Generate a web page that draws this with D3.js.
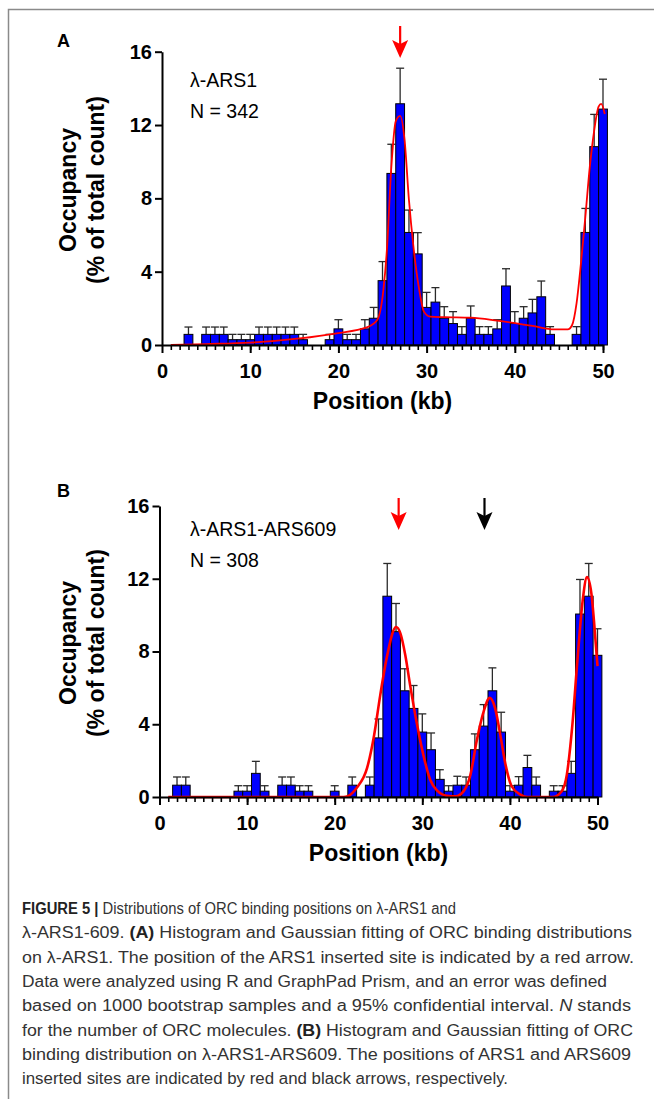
<!DOCTYPE html>
<html lang="en">
<head>
<meta charset="utf-8">
<title>ORC binding distributions</title>
<script src="https://cdnjs.cloudflare.com/ajax/libs/d3/7.8.5/d3.min.js"></script>
<style>
  html, body { margin: 0; padding: 0; background: #fff; }
  svg { display: block; font-family: Arial, "Liberation Sans", sans-serif; }
  .axis path, .axis line { stroke: #000; stroke-width: 2; }
  .axis text { font-size: 20px; font-weight: bold; fill: #000; font-family: Arial, "Liberation Sans", sans-serif; }
  .minor path { display: none; }
  .minor line { stroke-width: 1.6; }
  .title { font-size: 23px; font-weight: bold; }
  .caption { font-size: 16px; fill: #333; }
</style>
</head>
<body>
<div id="chart"></div>
<script>
// positions of the histogram bins (kb)
const positionsKb = [1,2,3,4,5,6,7,8,9,10,11,12,13,14,15,16,17,18,19,20,21,22,23,24,25,
                     26,27,28,29,30,31,32,33,34,35,36,37,38,39,40,41,42,43,44,45,46,47,48,49,50];
const yTicks = [0, 4, 8, 12, 16];
const xMajorTicks = [0, 10, 20, 30, 40, 50];

// panel A : lambda-ARS1, N = 342
const occupancyA = [0,0,0.58,0,0.58,0.58,0.58,0.29,0.29,0.29,0.58,0.58,0.58,0.58,0.58,0.29,0,0,0.29,0.88,
                    0.29,0.29,0.88,1.46,3.51,9.36,13.16,6.14,4.97,2.05,2.34,1.46,1.17,0.58,1.46,0.58,0.58,0.88,3.22,1.17,
                    1.46,1.75,2.63,0.58,0,0,0.58,6.14,10.82,12.87];
const errorTopA = [null,null,0.98,null,0.98,0.98,0.98,0.58,0.58,0.58,0.98,0.98,0.98,0.98,0.98,0.58,null,null,0.58,1.38,
                   0.58,0.58,1.38,2.05,4.55,10.95,15.1,7.36,6.13,2.87,3.13,2.09,1.82,1.0,2.13,1.0,1.0,1.38,4.16,1.82,
                   2.09,2.49,3.49,1.0,null,null,1.0,7.45,12.58,14.5];
const fitA = [[1,0],[5,0.05],[10,0.13],[15.6,0.36],[19.8,0.64],[23.2,0.96],[24.4,1.36],[25.1,3.0],[25.5,5.2],
              [26,9.7],[26.5,12.2],[27,12.5],[27.5,11.2],[28,7.9],[28.5,5.4],[29.1,3.2],[29.7,1.82],[30.4,1.55],
              [32,1.52],[35,1.49],[38,1.33],[42,1.04],[44.5,0.85],[46,0.85],[46.5,1.09],[47,2.27],[47.5,4.45],
              [48,7.0],[48.5,9.7],[49,11.7],[49.5,13.0],[49.8,13.15],[50.2,12.6]];
const arrowsA = [{site: "ARS1", kb: 27.0}];

// panel B : lambda-ARS1-ARS609, N = 308
const occupancyB = [0,0.65,0.65,0,0,0,0,0,0.32,0.32,1.30,0.32,0,0.65,0.65,0.32,0.32,0,0,0.32,
                    0,0.65,0,0.65,3.25,11.04,9.09,5.84,4.87,3.57,2.60,0.97,0.32,0.65,0.65,2.60,3.90,5.84,3.57,0.32,
                    0.65,1.62,0.65,0,0.32,0.32,1.30,10.06,11.04,7.79];
const errorTopB = [null,1.1,1.1,null,null,null,null,null,0.62,0.62,1.96,0.62,null,1.1,1.1,0.62,0.62,null,null,0.62,
                   null,1.1,null,1.1,4.29,12.84,10.64,7.05,6.13,4.57,3.52,1.5,0.62,1.14,1.1,3.47,5.08,7.1,4.66,0.62,
                   1.12,2.29,1.1,null,0.62,0.62,1.96,11.96,12.84,9.25];
const fitB = [[1,0],[21,0],[21.5,0.05],[22.5,0.5],[23.7,1.6],[24.5,3.4],[25.2,5.6],[26,7.8],[27,9.35],[27.5,9.0],
              [28.06,7.8],[28.6,6.18],[29.4,3.98],[30.2,2.15],[30.9,0.95],[31.7,0.35],[32.8,0.07],[33.8,0.04],
              [34.7,0.31],[35.5,1.23],[36.2,3.06],[37,4.7],[37.7,5.45],[38.3,4.9],[38.9,3.43],[39.5,1.78],
              [40.2,0.59],[41.2,0.13],[42,0],[44.9,0],[45.9,0.3],[46.5,1.23],[47.1,3.8],[47.7,7.47],[48.3,10.77],
              [48.8,12.09],[49.3,11.2],[49.6,9.67],[50,7.2]];
const arrowsB = [{site: "ARS1", kb: 27.3}, {site: "ARS609", kb: 37.1}];

const captionLines = [
  [["FIGURE 5 |", "b"], [" Distributions of ORC binding positions on λ-ARS1 and", ""]],
  [["λ-ARS1-609. ", ""], ["(A)", "b"], [" Histogram and Gaussian fitting of ORC binding distributions", ""]],
  [["on λ-ARS1. The position of the ARS1 inserted site is indicated by a red arrow.", ""]],
  [["Data were analyzed using R and GraphPad Prism, and an error was defined", ""]],
  [["based on 1000 bootstrap samples and a 95% confidential interval. ", ""], ["N", "i"], [" stands", ""]],
  [["for the number of ORC molecules. ", ""], ["(B)", "b"], [" Histogram and Gaussian fitting of ORC", ""]],
  [["binding distribution on λ-ARS1-ARS609. The positions of ARS1 and ARS609", ""]],
  [["inserted sites are indicated by red and black arrows, respectively.", ""]]
];
const captionEnds = [456, 632, 634, 607, 631, 633, 631, 508];

const siteColour = {ARS1: "#ff0000", ARS609: "#000000"};

const W = 654, H = 1099;
const svg = d3.select("#chart").append("svg").attr("width", W).attr("height", H);
svg.append("rect").attr("width", W).attr("height", H).attr("fill", "#fff");

// figure frame
svg.append("path").attr("d", "M8.5," + H + "V9.5H" + W)
   .attr("fill", "none").attr("stroke", "#8a8a8a").attr("stroke-width", 1.5);

function drawPanel(p) {
  const x = d3.scaleLinear().domain([0, 50]).range([p.left, p.right]);
  const y = d3.scaleLinear().domain([0, 16]).range([p.bottom, p.top]);
  const g = svg.append("g");

  const rows = positionsKb.map((kb, i) => ({kb: kb, v: p.values[i], err: p.errors[i]}));

  // error bars (upper only)
  const eb = g.append("g").attr("stroke", "#2a2a2a").attr("stroke-width", 1.3);
  rows.filter(d => d.err != null).forEach(d => {
    eb.append("line").attr("x1", x(d.kb)).attr("x2", x(d.kb)).attr("y1", y(d.v)).attr("y2", y(d.err));
    eb.append("line").attr("x1", x(d.kb) - 4).attr("x2", x(d.kb) + 4).attr("y1", y(d.err)).attr("y2", y(d.err));
  });

  g.selectAll(".bar").data(rows.filter(d => d.v > 0)).enter()
    .append("rect").attr("class", "bar")
    .attr("x", d => x(d.kb - 0.5))
    .attr("width", d => x(d.kb + 0.5) - x(d.kb - 0.5))
    .attr("y", d => y(d.v))
    .attr("height", d => y(0) - y(d.v))
    .attr("fill", "#0000ff").attr("stroke", "#000").attr("stroke-width", 1);

  // fitted curve
  g.append("path").datum(p.fit)
    .attr("d", d3.line().x(d => x(d[0])).y(d => y(d[1])).curve(d3.curveMonotoneX))
    .attr("fill", "none").attr("stroke", "#ff0000").attr("stroke-width", p.fitWidth);

  // axes
  g.append("g").attr("class", "axis minor").attr("transform", "translate(0," + y(0) + ")")
    .call(d3.axisBottom(x).tickValues(positionsKb).tickSize(5).tickFormat(""));
  g.append("g").attr("class", "axis").attr("transform", "translate(0," + y(0) + ")")
    .call(d3.axisBottom(x).tickValues(xMajorTicks).tickSize(8).tickSizeOuter(0).tickPadding(11).tickFormat(d3.format("d")));
  g.append("g").attr("class", "axis").attr("transform", "translate(" + x(0) + ",0)")
    .call(d3.axisLeft(y).tickValues(yTicks).tickSize(7).tickSizeOuter(0).tickPadding(3));

  // axis titles
  g.append("text").attr("class", "title").attr("x", x(25)).attr("y", p.bottom + 64)
    .attr("text-anchor", "middle").text("Position (kb)");
  const ty = p.titleMid;
  g.append("text").attr("class", "title").attr("text-anchor", "middle")
    .attr("transform", "translate(76," + ty + ") rotate(-90)").text("Occupancy");
  g.append("text").attr("class", "title").attr("text-anchor", "middle")
    .attr("transform", "translate(104," + ty + ") rotate(-90)").text("(% of total count)");

  // panel letter & labels
  g.append("text").attr("x", 57).attr("y", p.letterY).attr("font-size", 18).attr("font-weight", "bold").text(p.letter);
  g.append("text").attr("x", 190).attr("y", p.nameY).attr("font-size", 19.5).text(p.name);
  g.append("text").attr("x", 190).attr("y", p.nameY + 31).attr("font-size", 19.5).text(p.count);

  // arrows marking inserted sites
  p.arrows.forEach(a => {
    const ax = x(a.kb), c = siteColour[a.site];
    g.append("line").attr("x1", ax).attr("x2", ax).attr("y1", p.arrowTop).attr("y2", p.arrowTop + 20)
      .attr("stroke", c).attr("stroke-width", 2.2);
    g.append("path")
      .attr("d", `M${ax - 8},${p.arrowTop + 14} L${ax},${p.arrowTop + 18} L${ax + 8},${p.arrowTop + 14} L${ax},${p.arrowTop + 32} Z`)
      .attr("fill", c);
  });
}

drawPanel({letter: "A", name: "λ-ARS1", count: "N = 342",
  values: occupancyA, errors: errorTopA, fit: fitA, arrows: arrowsA, fitWidth: 1.8,
  left: 162, right: 603, top: 51.7, bottom: 345, titleMid: 190, letterY: 47, nameY: 87, arrowTop: 26});

drawPanel({letter: "B", name: "λ-ARS1-ARS609", count: "N = 308",
  values: occupancyB, errors: errorTopB, fit: fitB, arrows: arrowsB, fitWidth: 2.6,
  left: 159.5, right: 597.5, top: 506, bottom: 797, titleMid: 643, letterY: 497, nameY: 536, arrowTop: 498});

// caption
const cap = svg.append("g").attr("class", "caption");
captionLines.forEach((parts, i) => {
  const t = cap.append("text").attr("x", 22).attr("y", 914 + i * 24.3)
    .attr("textLength", captionEnds[i] - 22).attr("lengthAdjust", "spacingAndGlyphs");
  parts.forEach(([s, st]) => {
    const ts = t.append("tspan").text(s);
    if (st === "b") ts.attr("font-weight", "bold").attr("fill", "#222");
    if (st === "i") ts.attr("font-style", "italic");
  });
});
</script>
</body>
</html>
